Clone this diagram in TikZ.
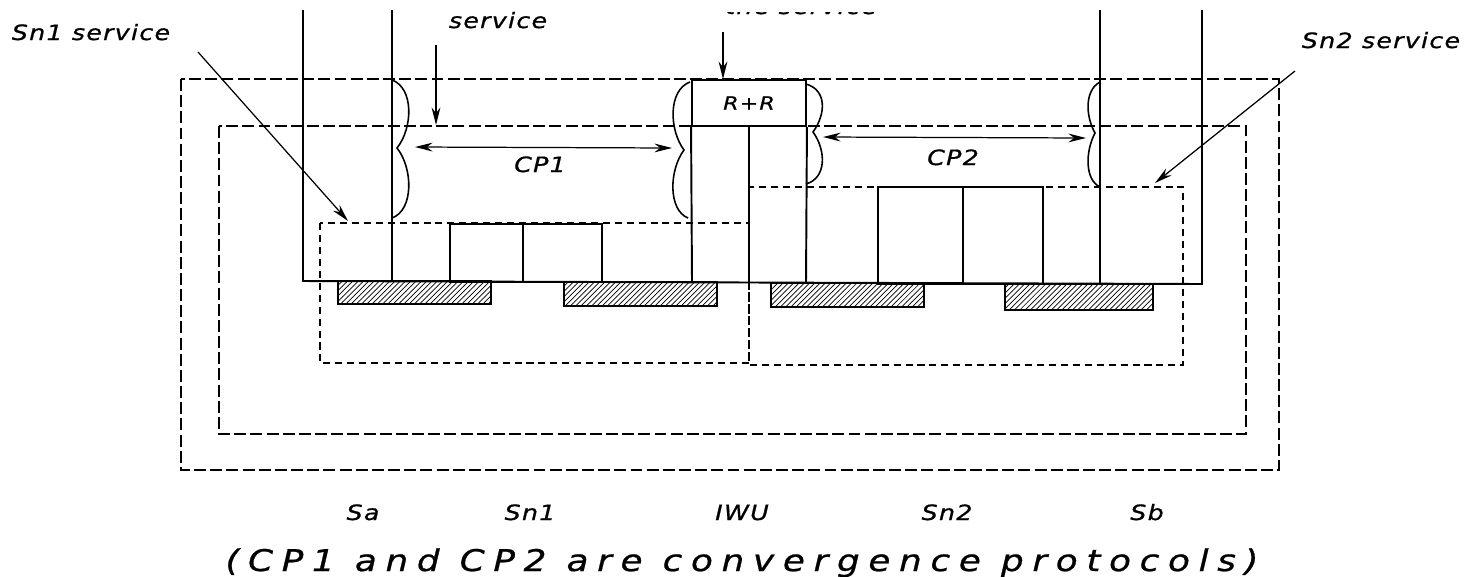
\documentclass[tikz,border=0pt]{standalone}
\usepackage{fontspec}
\newfontfamily\plotfont[LetterSpace=6, FakeStretch=1.2, FakeBold=0.8]{DejaVu Sans}
\newfontfamily\capfont[LetterSpace=29, FakeStretch=1.2, FakeBold=0.8]{DejaVu Sans}
\usetikzlibrary{arrows.meta,patterns,positioning}

\begin{document}
\begin{tikzpicture}[x=0.02cm, y=-0.02cm,
    font=\plotfont\itshape\fontsize{12}{14}\selectfont,
    stack/.style={line width=1.1pt},
    netbox/.style={line width=0.8pt, dash pattern=on 6.8pt off 2.4pt},
    srvbox/.style={line width=0.8pt, dash pattern=on 4pt off 2.8pt},
    pad/.style={draw, line width=0.9pt, pattern=north east lines},
    curly/.style={line width=0.9pt},
    arr/.style={-{Stealth[length=10pt,width=5pt]}, line width=0.7pt},
    dbl/.style={{Stealth[length=10pt,width=5pt]}-{Stealth[length=10pt,width=5pt]}, line width=0.7pt},
    lbl/.style={inner sep=0pt, anchor=base}]
\useasboundingbox (0,0) rectangle (1480,576);
% label cut off by the top edge: only its foot shows
\node[lbl] (topsrv) at (801,14) {the service};
\fill[white] (0,-20) rectangle (1480,11.5);
% end systems Sa and Sb, joined along the bottom
\draw[stack] (303,10) -- (303,281) -- (1202,284) -- (1202,10);
\draw[stack] (392,10) -- (392,281);
\draw[stack] (1100,10) -- (1100,284);
% interworking unit with R+R on top
\node[draw, stack, minimum width=2.28cm, minimum height=0.92cm, inner sep=0pt,
      font=\plotfont\itshape\fontsize{10.5}{12}\selectfont] (rr) at (749,103) {R+R};
\draw[stack] (rr.south west) -- (692,282);
\draw[stack] (rr.south east) -- (806,283);
\draw[stack] (rr.south) -- (749,282);
% relay boxes of Sn1 and Sn2
\draw[stack] (450,224) rectangle (523,282);
\draw[stack] (523,224) rectangle (602,282);
\draw[stack] (878,187) rectangle (963,284);
\draw[stack] (963,187) rectangle (1043,284);
% hatched media
\draw[pad] (338,281) rectangle (491,304);
\draw[pad] (564,282) rectangle (717,306);
\draw[pad] (771,283) rectangle (924,307);
\draw[pad] (1005,284) rectangle (1153,310);
% service boundaries
\draw[netbox] (181,79) rectangle (1279,470);
\draw[netbox] (219,126) rectangle (1246,434);
\draw[srvbox] (320,223) rectangle (749,363);
\draw[srvbox] (749,187) rectangle (1183,365);
% braces of the convergence protocols
\draw[curly] (392,80) .. controls (414,88) and (413,128) .. (397,148)
             .. controls (413,168) and (414,210) .. (392,218);
\draw[curly] (690,82) .. controls (668,90) and (669,130) .. (684,150)
             .. controls (669,170) and (668,210) .. (688,218);
\draw[curly] (806,84) .. controls (827,90) and (826,114) .. (813,132)
             .. controls (826,150) and (827,178) .. (806,184);
\draw[curly] (1100,82) .. controls (1085,90) and (1085,115) .. (1095,133)
             .. controls (1085,152) and (1085,180) .. (1100,187);
% labels at the top
\node[lbl] (sn1srv) at (91,40) {Sn1 service};
\node[lbl] (srv) at (498,28) {service};
\node[lbl] (sn2srv) at (1381,48) {Sn2 service};
% pointers
\coordinate (sn1from) at (198,52);
\coordinate (sn1to) at (348,221);
\coordinate (sn2from) at (1295,71);
\coordinate (sn2to) at (1155,183);
\coordinate (srvfrom) at (436,45);
\coordinate (srvto) at (436,125);
\coordinate (rrfrom) at (723,32);
\draw[arr] (sn1from) -- (sn1to);
\draw[arr] (sn2from) -- (sn2to);
\draw[arr] (srvfrom) -- (srvto);
\draw[arr] (rrfrom) -- (rrfrom |- rr.north);
% convergence protocol spans
\coordinate (cp1l) at (415,147);
\coordinate (cp1r) at (672,148);
\coordinate (cp2l) at (823,137);
\coordinate (cp2r) at (1086,138);
\draw[dbl] (cp1l) -- (cp1r);
\draw[dbl] (cp2l) -- (cp2r);
\node[lbl] (cp1) at (540,172) {CP1};
\node[lbl] (cp2) at (953,165) {CP2};
% system names
\node[lbl] (sa) at (363,520) {Sa};
\node[lbl] (sn1) at (530,520) {Sn1};
\node[lbl] (iwu) at (742,520) {IWU};
\node[lbl] (sn2) at (947,520) {Sn2};
\node[lbl] (sb) at (1147,520) {Sb};
\node[lbl, font=\capfont\itshape\fontsize{17}{20}\selectfont] (note) at (742,571)
  {(CP1 and CP2 are convergence protocols)};
\end{tikzpicture}
\end{document}
